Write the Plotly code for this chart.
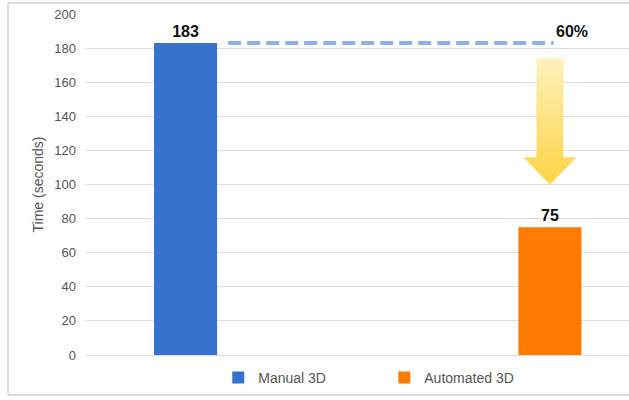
import plotly.graph_objects as go

categories = ["Manual 3D", "Automated 3D"]
times = [183, 75]
colors = ["#3671CD", "#FF7A00"]
reduction_label = "60%"
y_ticks = [0, 20, 40, 60, 80, 100, 120, 140, 160, 180, 200]

# arrow (decorative) geometry in data units
arrow_top, arrow_head, arrow_tip = 174, 116, 100
shaft_hw, head_hw = 0.037, 0.073

fig = go.Figure()
for i, (cat, val, col) in enumerate(zip(categories, times, colors)):
    fig.add_trace(go.Bar(
        x=[i], y=[val], name=cat, marker=dict(color=col, line=dict(width=0)),
        width=0.173, text=[str(val)], textposition="outside",
        textfont=dict(family="Liberation Sans, Arial", size=16, color="#111111", weight="bold"),
        cliponaxis=False,
    ))

# dashed reference line at manual level
fig.add_trace(go.Scatter(
    x=[0.117, 1.01], y=[times[0], times[0]], mode="lines",
    line=dict(color="#8FB0E8", width=4, dash="13px,6px"),
    showlegend=False, hoverinfo="skip",
))

# gradient arrow
cx = 1.0
ax = [cx - shaft_hw, cx + shaft_hw, cx + shaft_hw, cx + head_hw, cx, cx - head_hw, cx - shaft_hw, cx - shaft_hw]
ay = [arrow_top, arrow_top, arrow_head, arrow_head, arrow_tip, arrow_head, arrow_head, arrow_top]
fig.add_trace(go.Scatter(
    x=ax, y=ay, mode="lines", fill="toself", line=dict(width=0, color="rgba(0,0,0,0)"),
    fillgradient=dict(type="vertical", colorscale=[[0, "#FDD444"], [1, "#FDF1BC"]]),
    showlegend=False, hoverinfo="skip",
))

fig.add_annotation(
    x=1.06, y=times[0], xref="x", yref="y", text=reduction_label, showarrow=False,
    yanchor="bottom", yshift=1,
    font=dict(family="Liberation Sans, Arial", size=16, color="#111111", weight="bold"),
)

# outer chart border (right side runs off the canvas)
fig.add_shape(type="line", xref="paper", yref="paper", x0=-0.1415, x1=1.2, y0=-0.117, y1=-0.117,
              line=dict(color="#DDDDDD", width=2), layer="below")
fig.add_shape(type="line", xref="paper", yref="paper", x0=-0.1415, x1=1.2, y0=1.032, y1=1.032,
              line=dict(color="#DDDDDD", width=2), layer="below")
fig.add_shape(type="line", xref="paper", yref="paper", x0=-0.1415, x1=-0.1415, y0=-0.117, y1=1.032,
              line=dict(color="#DDDDDD", width=2), layer="below")

fig.update_layout(
    width=629, height=400,
    margin=dict(l=85, r=0, t=14, b=45),
    paper_bgcolor="white", plot_bgcolor="white",
    barmode="overlay",
    font=dict(family="Liberation Sans, Arial", color="#555555"),
    xaxis=dict(range=[-0.276, 1.217], showticklabels=False, showgrid=False,
               zeroline=False, showline=False, ticks=""),
    yaxis=dict(range=[0, 200], tickvals=y_ticks, showgrid=True, gridcolor="#DDDDDD",
               gridwidth=1, zeroline=True, zerolinecolor="#DDDDDD", zerolinewidth=1,
               tickfont=dict(size=13, color="#555555"), ticklabelstandoff=8,
               title=dict(text="Time (seconds)", font=dict(size=14, color="#555555"), standoff=7)),
    legend=dict(orientation="h", x=0.245, xanchor="left", y=-0.067, yanchor="middle",
                font=dict(size=14, color="#555555"), entrywidth=121, entrywidthmode="pixels",
                itemwidth=30, bgcolor="rgba(0,0,0,0)"),
    showlegend=True,
)

fig.write_html("out.html")
